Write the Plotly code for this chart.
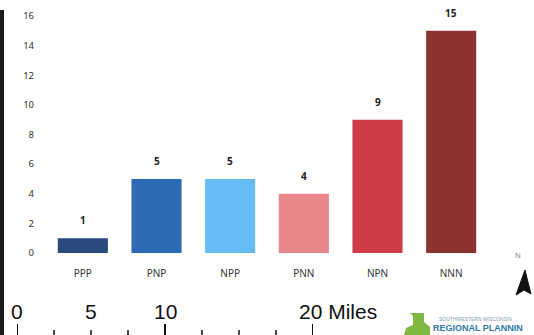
import plotly.graph_objects as go

# Chart data
categories = ["PPP", "PNP", "NPP", "PNN", "NPN", "NNN"]
counts = [1, 5, 5, 4, 9, 15]
bar_colors = ["#2b4a7e", "#2d6bb5", "#68bcf4", "#e8868b", "#cf3b47", "#8b3331"]
y_ticks = [0, 2, 4, 6, 8, 10, 12, 14, 16]

# Map scale bar (miles)
scale_ticks = [0, 2.5, 5, 7.5, 10, 12.5, 15, 17.5, 20]
scale_major = [0, 10, 20]
scale_labels = {0: "0", 5: "5", 10: "10", 20: "20 Miles"}

W, H = 534, 335


def px(x, y):
    """Pixel position -> paper fraction."""
    return x / W, 1 - y / H


def poly(points):
    coords = [px(a, b) for a, b in points]
    return "M " + " L ".join(f"{a:.4f},{b:.4f}" for a, b in coords) + " Z"


fig = go.Figure()
fig.add_trace(go.Bar(
    x=categories, y=counts,
    marker=dict(color=bar_colors, line=dict(width=0)),
    width=0.68,
    showlegend=False,
    xaxis="x", yaxis="y",
))

# invisible trace so the scale-bar axis exists
fig.add_trace(go.Scatter(x=[0, 20], y=[0, 1], mode="markers",
                         marker=dict(opacity=0), hoverinfo="skip",
                         showlegend=False, xaxis="x2", yaxis="y2"))

shapes = []
for t in scale_ticks:
    major = t in scale_major
    shapes.append(dict(type="line", xref="x2", yref="y2", x0=t, x1=t,
                       y0=0.0 if major else 0.55, y1=1.0,
                       line=dict(color="#111111", width=2 if major else 1.5)))

# left frame line
shapes.append(dict(type="line", xref="paper", yref="paper", x0=2 / W, x1=2 / W,
                   y0=0, y1=1 - 10 / H, line=dict(color="#1a1a1a", width=4)))

# north arrow
shapes.append(dict(type="path", xref="paper", yref="paper",
                   path=poly([(525, 270), (531, 294), (524, 290), (516, 295)]),
                   fillcolor="#111111", line=dict(color="#111111", width=1)))

# logo mark
shapes.append(dict(type="path", xref="paper", yref="paper",
                   path=poly([(404, 335), (406, 328), (413, 325), (413, 316), (410, 313),
                              (424, 313), (424, 322), (430, 327), (430, 335)]),
                   fillcolor="#7fb843", line=dict(width=0)))

annotations = []
# value labels above bars
for cat, v in zip(categories, counts):
    annotations.append(dict(xref="x", yref="y", x=cat, y=v, text=str(v),
                            showarrow=False, yanchor="bottom", yshift=9,
                            font=dict(family="Noto Sans", size=10, color="#222222",
                                      weight="bold")))

for val, lab in scale_labels.items():
    miles = lab.endswith("Miles")
    annotations.append(dict(xref="x2", yref="paper", x=val, y=1 - 311 / H,
                            text=lab, showarrow=False,
                            xanchor="left" if miles else "center",
                            xshift=-16 if miles else 0,
                            yanchor="middle",
                            font=dict(family="Liberation Sans", size=21, color="#111111")))

annotations.append(dict(xref="paper", yref="paper", x=523 / W, y=1 - 262 / H, text="N",
                        showarrow=False, font=dict(family="Liberation Sans", size=8, color="#888888")))
annotations.append(dict(xref="paper", yref="paper", x=437 / W, y=1 - 319 / H,
                        text="SOUTHWESTERN WISCONSIN", showarrow=False, xanchor="left",
                        yanchor="middle",
                        font=dict(family="Liberation Sans", size=5, color="#8a9aa8")))
annotations.append(dict(xref="paper", yref="paper", x=431 / W, y=1 - 328 / H,
                        text="REGIONAL PLANNIN", showarrow=False, xanchor="left",
                        yanchor="middle",
                        font=dict(family="Liberation Sans", size=9, color="#2f7aa0", weight="bold")))

fig.update_layout(
    width=W, height=H,
    margin=dict(l=0, r=0, t=0, b=0, pad=0),
    paper_bgcolor="white", plot_bgcolor="white",
    xaxis=dict(domain=[46 / W, 488 / W], range=[-0.5, 5.5], automargin=False,
               showgrid=False, zeroline=False, showline=False, ticks="",
               ticklabelstandoff=13,
               tickfont=dict(family="Noto Sans", size=10, color="#333333")),
    yaxis=dict(domain=[1 - 253 / H, 1 - 16 / H], range=[0, 16], automargin=False,
               tickvals=y_ticks, showgrid=False, zeroline=False, showline=False,
               ticks="", ticklabelstandoff=11,
               tickfont=dict(family="Noto Sans", size=9.5, color="#333333")),
    xaxis2=dict(domain=[17 / W, 313 / W], range=[0, 20], visible=False, automargin=False),
    yaxis2=dict(domain=[0, 1 - 324 / H], range=[1, 0], visible=False, anchor="x2",
                automargin=False),
    shapes=shapes,
    annotations=annotations,
)

fig.write_html("out.html")
